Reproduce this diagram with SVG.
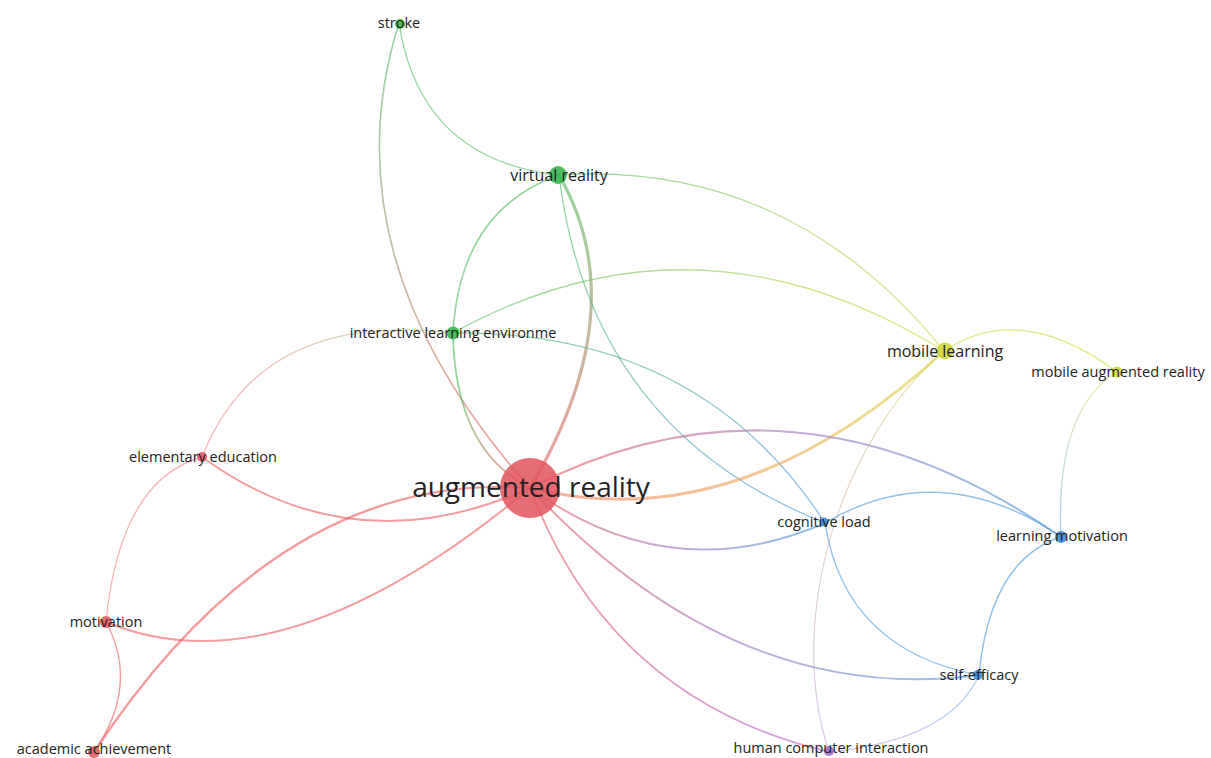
<svg xmlns="http://www.w3.org/2000/svg" width="1211" height="758" viewBox="0 0 1211 758">
<style>
.e{fill:none;stroke-linecap:round;stroke-opacity:0.6}
.t{fill:none;stroke-linecap:round;stroke-opacity:0.45}
.lbl{font-family:"Open Sans","Liberation Sans",sans-serif;fill:#222;text-anchor:middle}
.s{font-size:14.5px}
.m{font-size:16px}
.big{font-size:28px}
.red{fill:#e3535d;fill-opacity:0.85}
.grn{fill:#3cb650;fill-opacity:0.9}
.yel{fill:#cfd83a;fill-opacity:0.9}
.blu{fill:#3a8dd6;fill-opacity:0.9}
.pur{fill:#a06ad0;fill-opacity:0.9}
</style>
<defs>
<linearGradient id="gSA" gradientUnits="userSpaceOnUse" x1="399" y1="23" x2="530" y2="488"><stop offset="0" stop-color="#4cbb5c"/><stop offset="1" stop-color="#ee5a5f"/></linearGradient>
<linearGradient id="gVA" gradientUnits="userSpaceOnUse" x1="559" y1="175" x2="530" y2="488"><stop offset="0" stop-color="#4cbb5c"/><stop offset="1" stop-color="#ee5a5f"/></linearGradient>
<linearGradient id="gIA" gradientUnits="userSpaceOnUse" x1="453" y1="333" x2="530" y2="488"><stop offset="0.3" stop-color="#4cbb5c"/><stop offset="1" stop-color="#ee5a5f"/></linearGradient>
<linearGradient id="gIM" gradientUnits="userSpaceOnUse" x1="453" y1="333" x2="944" y2="351"><stop offset="0" stop-color="#4cbb5c"/><stop offset="1" stop-color="#d5db45"/></linearGradient>
<linearGradient id="gVM" gradientUnits="userSpaceOnUse" x1="559" y1="175" x2="944" y2="351"><stop offset="0" stop-color="#4cbb5c"/><stop offset="1" stop-color="#d5db45"/></linearGradient>
<linearGradient id="gIC" gradientUnits="userSpaceOnUse" x1="453" y1="333" x2="825" y2="523"><stop offset="0" stop-color="#4cbb5c"/><stop offset="1" stop-color="#4a98dc"/></linearGradient>
<linearGradient id="gVC" gradientUnits="userSpaceOnUse" x1="559" y1="175" x2="825" y2="523"><stop offset="0" stop-color="#4cbb5c"/><stop offset="1" stop-color="#4a98dc"/></linearGradient>
<linearGradient id="gAM" gradientUnits="userSpaceOnUse" x1="530" y1="488" x2="944" y2="351"><stop offset="0" stop-color="#f27a5c"/><stop offset="0.5" stop-color="#f0a050"/><stop offset="1" stop-color="#d5db45"/></linearGradient>
<linearGradient id="gAL" gradientUnits="userSpaceOnUse" x1="530" y1="488" x2="1061" y2="537"><stop offset="0" stop-color="#ee5a5f"/><stop offset="0.5" stop-color="#9a74b8"/><stop offset="1" stop-color="#4a98dc"/></linearGradient>
<linearGradient id="gAC" gradientUnits="userSpaceOnUse" x1="530" y1="488" x2="825" y2="523"><stop offset="0" stop-color="#ee5a5f"/><stop offset="0.5" stop-color="#9a74b8"/><stop offset="1" stop-color="#4a98dc"/></linearGradient>
<linearGradient id="gAS" gradientUnits="userSpaceOnUse" x1="530" y1="488" x2="979" y2="675"><stop offset="0" stop-color="#ee5a5f"/><stop offset="0.5" stop-color="#9a74b8"/><stop offset="1" stop-color="#4a98dc"/></linearGradient>
<linearGradient id="gAH" gradientUnits="userSpaceOnUse" x1="530" y1="488" x2="829" y2="752"><stop offset="0" stop-color="#ee5a5f"/><stop offset="1" stop-color="#b066d0"/></linearGradient>
<linearGradient id="gEI" gradientUnits="userSpaceOnUse" x1="202" y1="457" x2="453" y2="333"><stop offset="0" stop-color="#ee5a5f"/><stop offset="1" stop-color="#8fbf6a"/></linearGradient>
<linearGradient id="gML" gradientUnits="userSpaceOnUse" x1="1117" y1="372" x2="1061" y2="537"><stop offset="0" stop-color="#d5db45"/><stop offset="1" stop-color="#4a98dc"/></linearGradient>
<linearGradient id="gSH" gradientUnits="userSpaceOnUse" x1="979" y1="675" x2="829" y2="752"><stop offset="0" stop-color="#4a98dc"/><stop offset="1" stop-color="#a873d4"/></linearGradient>
<linearGradient id="gMH" gradientUnits="userSpaceOnUse" x1="944" y1="351" x2="829" y2="752"><stop offset="0" stop-color="#d5c040"/><stop offset="1" stop-color="#a873d4"/></linearGradient>
</defs>
<rect width="1211" height="758" fill="#ffffff"/>
<g id="connectors">
<path class="e" d="M399,23 Q325,258 530,488" stroke="url(#gSA)" stroke-width="1.6"/>
<path class="e" d="M559,175 Q636,309 530,488" stroke="url(#gVA)" stroke-width="3.2"/>
<path class="e" d="M453,333 Q455,450 530,488" stroke="url(#gIA)" stroke-width="1.8"/>
<path class="e" d="M453,333 Q697,198 944,351" stroke="url(#gIM)" stroke-width="1.3"/>
<path class="e" d="M559,175 Q790,160 944,351" stroke="url(#gVM)" stroke-width="1.3"/>
<path class="e" d="M453,333 Q700,330 825,523" stroke="url(#gIC)" stroke-width="1.3"/>
<path class="e" d="M559,175 Q590,430 825,523" stroke="url(#gVC)" stroke-width="1.3"/>
<path class="e" d="M530,488 Q740,540 944,351" stroke="url(#gAM)" stroke-width="3"/>
<path class="e" d="M530,488 Q795,352 1061,537" stroke="url(#gAL)" stroke-width="2"/>
<path class="e" d="M530,488 Q670,590 825,523" stroke="url(#gAC)" stroke-width="2"/>
<path class="e" d="M530,488 Q735,708 979,675" stroke="url(#gAS)" stroke-width="2"/>
<path class="e" d="M530,488 Q610,700 829,752" stroke="url(#gAH)" stroke-width="1.8"/>
<path class="e" d="M202,457 Q354,567 530,488" stroke="#ee5a5f" stroke-width="2"/>
<path class="e" d="M106,622 Q282,695 530,488" stroke="#ee5a5f" stroke-width="2"/>
<path class="e" d="M94,752 Q280,470 530,488" stroke="#ee5a5f" stroke-width="2.4"/>
<path class="t" d="M202,457 Q260,310 453,333" stroke="url(#gEI)" stroke-width="1.2"/>
<path class="t" d="M202,457 Q120,480 106,622" stroke="#ee5a5f" stroke-width="1.3"/>
<path class="e" d="M106,622 Q140,685 94,752" stroke="#ee5a5f" stroke-width="1.4"/>
<path class="e" d="M399,23 Q420,160 559,175" stroke="#4cbb5c" stroke-width="1.3"/>
<path class="e" d="M559,175 Q460,210 453,333" stroke="#4cbb5c" stroke-width="1.6"/>
<path class="e" d="M944,351 Q1020,300 1117,372" stroke="#d5db45" stroke-width="1.4"/>
<path class="t" d="M1117,372 Q1055,410 1061,537" stroke="url(#gML)" stroke-width="1.3"/>
<path class="e" d="M825,523 Q940,455 1061,537" stroke="#4a98dc" stroke-width="1.4"/>
<path class="e" d="M1061,537 Q990,560 979,675" stroke="#4a98dc" stroke-width="1.5"/>
<path class="t" d="M979,675 Q950,740 829,752" stroke="url(#gSH)" stroke-width="1.2"/>
<path class="t" d="M944,351 C840,440 785,620 829,752" stroke="url(#gMH)" stroke-width="1.1"/>
<path class="e" d="M825,523 Q845,650 979,675" stroke="#4a98dc" stroke-width="1.4"/>
</g>
<g id="node-augmented-reality"><circle class="red" cx="530" cy="488" r="30"/><text class="lbl big" x="531" y="497">augmented reality</text></g>
<g id="node-stroke"><circle class="grn" cx="400" cy="24" r="5"/><text class="lbl s" x="399" y="28">stroke</text></g>
<g id="node-virtual-reality"><circle class="grn" cx="558" cy="175" r="9"/><text class="lbl m" x="559" y="181">virtual reality</text></g>
<g id="node-interactive-learning"><circle class="grn" cx="453" cy="333" r="6.5"/><text class="lbl s" x="453" y="338">interactive learning environme</text></g>
<g id="node-mobile-learning"><circle class="yel" cx="945" cy="351" r="8.5"/><text class="lbl m" x="945" y="357">mobile learning</text></g>
<g id="node-mobile-augmented-reality"><circle class="yel" cx="1117" cy="372" r="5.5"/><text class="lbl s" x="1118" y="377">mobile augmented reality</text></g>
<g id="node-elementary-education"><circle class="red" cx="202" cy="457" r="5"/><text class="lbl s" x="203" y="462">elementary education</text></g>
<g id="node-motivation"><circle class="red" cx="106" cy="622" r="6"/><text class="lbl s" x="106" y="627">motivation</text></g>
<g id="node-academic-achievement"><circle class="red" cx="94" cy="752" r="6"/><text class="lbl s" x="94" y="754">academic achievement</text></g>
<g id="node-cognitive-load"><circle class="blu" cx="824" cy="522" r="4.5"/><text class="lbl s" x="824" y="527">cognitive load</text></g>
<g id="node-learning-motivation"><circle class="blu" cx="1061" cy="537" r="6"/><text class="lbl s" x="1062" y="541">learning motivation</text></g>
<g id="node-self-efficacy"><circle class="blu" cx="978" cy="675" r="5"/><text class="lbl s" x="979" y="680">self-efficacy</text></g>
<g id="node-human-computer-interaction"><circle class="pur" cx="829" cy="751" r="5"/><text class="lbl s" x="831" y="753">human computer interaction</text></g>
</svg>
